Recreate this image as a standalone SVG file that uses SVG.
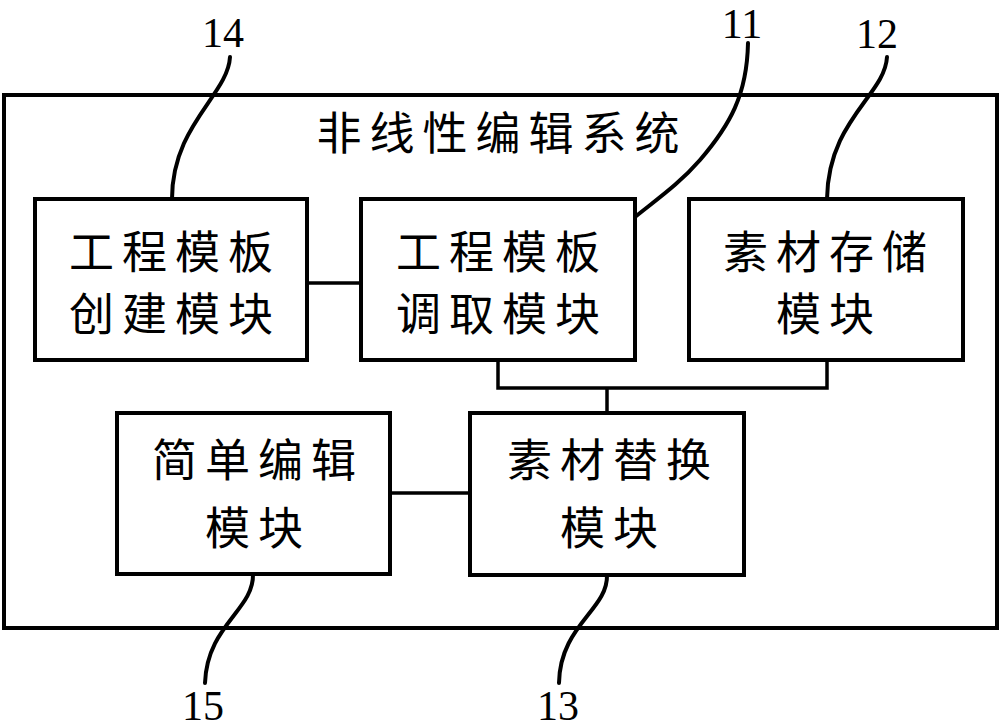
<svg xmlns="http://www.w3.org/2000/svg" width="1000" height="728" viewBox="0 0 1000 728">
<style>
.box{fill:#fff;stroke:#000;stroke-width:4}
.con{fill:none;stroke:#000;stroke-width:3.5}
.lead{fill:none;stroke:#000;stroke-width:4;stroke-linecap:round}
.t{font-family:"Noto Sans CJK SC","Liberation Serif",serif;font-size:45px;letter-spacing:8px;text-anchor:middle;dominant-baseline:central;fill:#000}
.n{font-family:"Liberation Serif",serif;font-size:42px;text-anchor:middle;fill:#000}
</style>
<rect width="1000" height="728" fill="#fff"/>
<g id="system">
<rect class="box" x="4" y="95" width="993" height="533"/>
<text class="t" x="502" y="130">非线性编辑系统</text>
</g>
<g id="connectors">
<line class="con" x1="307" y1="283" x2="361" y2="283"/>
<polyline class="con" points="498,361 498,388 827,388 827,361"/>
<line class="con" x1="607" y1="388" x2="607" y2="413"/>
<line class="con" x1="390" y1="493" x2="470" y2="493"/>
<path class="lead" d="M230,57 C228,95 172,125 172,199"/>
<path class="lead" d="M748,43 C747,95 730,125 700,160 C680,183 660,197 635,217"/>
<path class="lead" d="M887,57 C885,95 828,120 827,199"/>
<path class="lead" d="M253,574 C254,610 207,625 205,683"/>
<path class="lead" d="M607,575 C608,610 560,625 559,683"/>
</g>
<g id="node14">
<rect class="box" x="35" y="199" width="272" height="161"/>
<text class="t" x="175" y="249">工程模板</text>
<text class="t" x="175" y="311">创建模块</text>
</g>
<g id="node11">
<rect class="box" x="361" y="199" width="274" height="161"/>
<text class="t" x="502" y="249">工程模板</text>
<text class="t" x="502" y="311">调取模块</text>
</g>
<g id="node12">
<rect class="box" x="689" y="199" width="274" height="161"/>
<text class="t" x="829" y="249">素材存储</text>
<text class="t" x="829" y="311">模块</text>
</g>
<g id="node15">
<rect class="box" x="117" y="413" width="273" height="161"/>
<text class="t" x="258" y="457">简单编辑</text>
<text class="t" x="258" y="525">模块</text>
</g>
<g id="node13">
<rect class="box" x="470" y="413" width="274" height="162"/>
<text class="t" x="613" y="457">素材替换</text>
<text class="t" x="613" y="525">模块</text>
</g>
<g id="labels">
<text class="n" x="223" y="47">14</text>
<text class="n" x="742" y="38">11</text>
<text class="n" x="877" y="48">12</text>
<text class="n" x="203" y="720">15</text>
<text class="n" x="558" y="720">13</text>
</g>
</svg>
